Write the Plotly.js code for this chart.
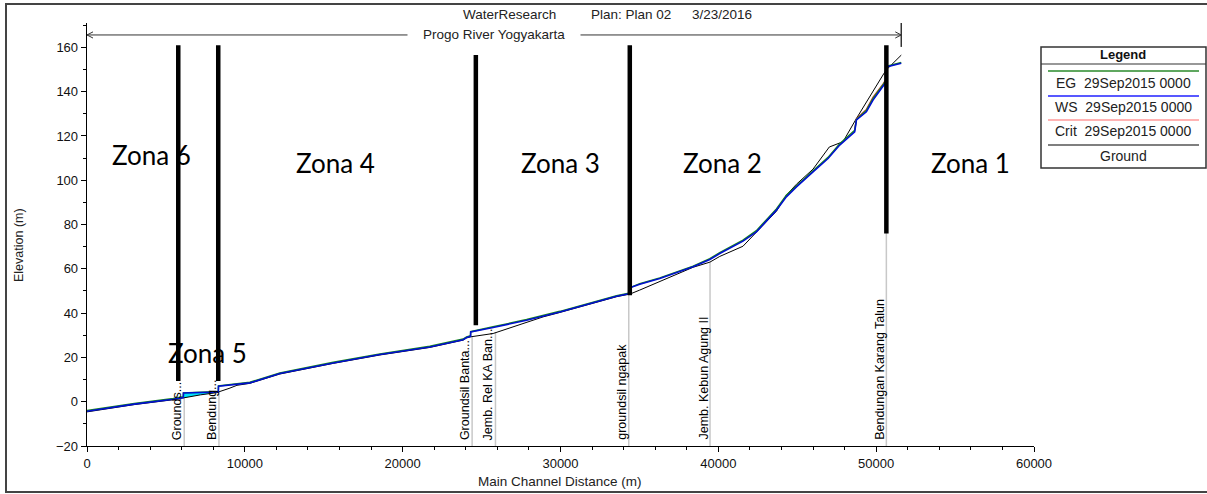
<!DOCTYPE html>
<html><head><meta charset="utf-8">
<script src="https://cdn.plot.ly/plotly-3.0.1.min.js"></script>
<style>html,body{margin:0;padding:0;background:#fff}#chart{width:1207px;height:494px}</style>
</head><body><div id="chart"></div>
<script>
// ---- data ----
const wsX = [0,3000,5466,6100,6110,7200,8320,8330,9000,9500,
  10320,12220,15600,18560,21720,23830,24050,24300,24310,25730,
  27850,29960,32060,33550,34390,34400,35020,36290,38400,39460,
  40090,41560,42410,43680,44310,44950,46000,46950,47690,48640,
  48750,49380,49800,50430,50640,50650,51590];
const wsY = [-4.3,-1.1,1.1,1.9,3.9,4.1,4.4,7.0,7.4,7.8,
  8.5,12.7,17.5,21.3,24.7,28.0,29.0,29.5,31.5,33.5,
  36.8,40.5,44.6,47.6,48.8,51.4,53.0,55.6,60.9,64.2,
  66.9,72.5,76.7,86.5,92.5,97.0,103.8,109.8,115.9,121.9,
  127.2,130.9,136.2,142.2,144.5,151.2,152.8];
const egY = [-4.0,-0.8,1.4,2.2,4.0,4.2,4.6,7.1,7.6,8.0,
  8.8,13.0,17.8,21.6,25.0,28.3,29.3,29.8,31.6,33.8,
  37.1,40.8,44.9,47.9,49.1,51.5,53.3,55.9,61.2,64.6,
  67.3,73.0,77.2,87.0,93.2,97.5,104.3,110.3,116.5,122.6,
  127.5,131.6,137.0,143.0,145.3,151.4,153.2];
const groundX = [0,3000,5466,6100,6110,7200,8320,8330,9000,9500,
  10320,12220,15600,18560,21720,23830,24050,24300,24310,25730,
  27850,28900,29960,32060,33550,34390,34400,35020,36290,38400,
  39460,40090,41560,42410,43680,44310,44950,46000,47030,47900,
  48750,50430,50640,51590];
const groundY = [-4.6,-1.3,0.9,1.7,1.8,3.1,4.2,4.4,6.0,7.4,
  8.3,12.5,17.3,21.1,24.5,27.8,28.8,29.3,29.3,30.8,
  35.6,38.3,40.3,44.4,47.4,48.6,48.6,50.4,54.4,60.7,
  63.0,65.6,70.2,76.5,86.0,93.3,98.2,105.0,115.0,117.4,
  127.9,147.5,149.8,156.5];
const critX = [48640,48750,49380,49800,50430,50640];
const critY = [122.6,127.8,132.0,137.5,143.4,145.8];

const seriesNames = ["EG  29Sep2015 0000","WS  29Sep2015 0000","Crit  29Sep2015 0000","Ground"];

const structNames = ["Grounds...","Bendung...","Groundsil Banta...","Jemb. Rel KA Ban...","groundsil ngapak","Jemb. Kebun Agung II","Bendungan Karang Talun"];
const structX = [6160,8360,24400,25880,34325,39474,50646];
const structTop = [1.9,4.4,29.3,31.5,48.6,63.3,150];

const zoneX = [5782,8315,24636,34390,50646];
const zoneTop = [161,161,156.5,161,161];
const zoneBottom = [9.4,9.4,34.5,48.1,76];

const zoneNames = ["Zona 6","Zona 5","Zona 4","Zona 3","Zona 2","Zona 1"];
const zoneLabelX = [4086,7663,15770,30020,40280,55980];
const zoneLabelY = [111.3,21.9,107.7,107.7,107.7,107.7];

const waterFrom = 6100, waterTo = 8330;
const reachName = "Progo River Yogyakarta";
const reachEnd = 51590, reachY = 165.6;
const headerParts = ["WaterResearch","Plan: Plan 02","3/23/2016"];

// ---- layout helpers ----
const W=1207,H=494,L=87,R=173,T=23,B=48;
const PW=W-L-R, PH=H-T-B;
const px = v => (v-L)/PW;
const py = v => (H-B-v)/PH;
const FONT = "Liberation Sans, Arial, sans-serif";

// water fill polygon (between WS and ground)
const fx=[], fy=[];
wsX.forEach((x,i)=>{ if(x>=waterFrom && x<=waterTo){fx.push(x); fy.push(wsY[i]);} });
for(let i=groundX.length-1;i>=0;i--){ const x=groundX[i]; if(x>=waterFrom && x<=waterTo){fx.push(x); fy.push(groundY[i]);} }

const traces = [
  {x:fx,y:fy,type:'scatter',mode:'lines',fill:'toself',fillcolor:'rgb(0,225,250)',line:{width:0},hoverinfo:'skip',showlegend:false},
  {x:groundX,y:groundY,type:'scatter',mode:'lines',name:seriesNames[3],line:{color:'#000',width:1}},
  {x:critX,y:critY,type:'scatter',mode:'lines',name:seriesNames[2],line:{color:'#e04040',width:1.3}},
  {x:wsX,y:egY,type:'scatter',mode:'lines',name:seriesNames[0],line:{color:'#1a8a1a',width:1.5}},
  {x:wsX,y:wsY,type:'scatter',mode:'lines',name:seriesNames[1],line:{color:'#0010d0',width:1.6}}
];

const shapes = [];
const annotations = [];
// outer frame
shapes.push({type:'rect',xref:'paper',yref:'paper',x0:px(6),x1:px(1220),y0:py(4),y1:py(492),line:{color:'#444',width:2}});
// structure guide lines
structX.forEach((x,i)=>{
  shapes.push({type:'line',xref:'x',yref:'y',x0:x,x1:x,y0:-20,y1:structTop[i],line:{color:'#c8c8c8',width:1.5},layer:'below'});
  annotations.push({x:x,y:-20,xref:'x',yref:'y',text:structNames[i],showarrow:false,textangle:-90,
    xanchor:'center',yanchor:'bottom',xshift:-7,yshift:4,font:{family:FONT,size:12.5,color:'#000'}});
});
// zone lines
zoneX.forEach((x,i)=>{
  shapes.push({type:'line',xref:'x',yref:'y',x0:x,x1:x,y0:zoneBottom[i],y1:zoneTop[i],line:{color:'#000',width:4.5}});
});
// reach arrow
shapes.push({type:'line',xref:'x',yref:'y',x0:0,x1:reachEnd,y0:reachY,y1:reachY,line:{color:'#333',width:1}});
shapes.push({type:'path',xref:'x',yref:'y',path:`M ${380},${reachY+1.4} L 0,${reachY} L ${380},${reachY-1.4}`,line:{color:'#333',width:1}});
shapes.push({type:'path',xref:'x',yref:'y',path:`M ${reachEnd-380},${reachY+1.4} L ${reachEnd},${reachY} L ${reachEnd-380},${reachY-1.4}`,line:{color:'#333',width:1}});
shapes.push({type:'line',xref:'x',yref:'y',x0:reachEnd,x1:reachEnd,y0:160.2,y1:171,line:{color:'#333',width:1.5}});
annotations.push({x:(0+reachEnd)/2,y:reachY,xref:'x',yref:'y',text:'&nbsp;&nbsp;&nbsp;&nbsp;'+reachName+'&nbsp;&nbsp;&nbsp;&nbsp;',showarrow:false,
  bgcolor:'#fff',borderpad:0,font:{family:FONT,size:13.5,color:'#222'},xanchor:'center',yanchor:'middle'});
// header
const headerPx=[461,589,690];
headerParts.forEach((t,i)=>annotations.push({x:px(headerPx[i]),y:py(15),xref:'paper',yref:'paper',text:t,showarrow:false,
  xanchor:'left',yanchor:'middle',font:{family:FONT,size:13.5,color:'#222'}}));
// zone labels
zoneNames.forEach((t,i)=>annotations.push({x:zoneLabelX[i],y:zoneLabelY[i],xref:'x',yref:'y',text:t,showarrow:false,
  xanchor:'center',yanchor:'middle',font:{family:'Lato, Open Sans, sans-serif',size:26,color:'#000'}}));
// axis titles
annotations.push({x:px(560),y:py(482),xref:'paper',yref:'paper',text:'Main Channel Distance (m)',showarrow:false,
  xanchor:'center',yanchor:'middle',font:{family:FONT,size:13.5,color:'#222'}});
annotations.push({x:px(19),y:py(245),xref:'paper',yref:'paper',text:'Elevation (m)',showarrow:false,textangle:-90,
  xanchor:'center',yanchor:'middle',font:{family:FONT,size:12.5,color:'#222'}});
// legend box
const lgL=1041,lgR=1206,lgT=47,lgB=168;
shapes.push({type:'rect',xref:'paper',yref:'paper',x0:px(lgL),x1:px(lgR),y0:py(lgT),y1:py(lgB),line:{color:'#333',width:1.5},fillcolor:'rgba(255,255,255,0)'});
shapes.push({type:'line',xref:'paper',yref:'paper',x0:px(lgL),x1:px(lgR),y0:py(64),y1:py(64),line:{color:'#333',width:1.2}});
annotations.push({x:px(1123),y:py(54),xref:'paper',yref:'paper',text:'<b>Legend</b>',showarrow:false,
  xanchor:'center',yanchor:'middle',font:{family:FONT,size:13,color:'#111'}});
const lgColors=['#2a8a2a','#2020ff','#ff9a9a','#555'];
const lgLineY=[71,96,120,145], lgTextY=[82.7,106.7,130.7,155.7];
seriesNames.forEach((t,i)=>{
  shapes.push({type:'line',xref:'paper',yref:'paper',x0:px(1048),x1:px(1199),y0:py(lgLineY[i]),y1:py(lgLineY[i]),line:{color:lgColors[i],width:1.5}});
  annotations.push({x:px(1123),y:py(lgTextY[i]),xref:'paper',yref:'paper',text:t.replace(/  /g,'&nbsp; '),showarrow:false,
    xanchor:'center',yanchor:'middle',font:{family:FONT,size:14,color:'#222'}});
});

const layout = {
  width:W,height:H,margin:{l:L,r:R,t:T,b:B,pad:0},
  paper_bgcolor:'#fff',plot_bgcolor:'#fff',showlegend:false,
  font:{family:FONT,color:'#111'},
  xaxis:{range:[0,60000],tickmode:'linear',tick0:0,dtick:10000,tickformat:'d',showgrid:false,zeroline:false,
    showline:true,linecolor:'#000',linewidth:1.3,ticks:'outside',ticklen:5,tickcolor:'#000',tickwidth:1,
    tickfont:{family:FONT,size:13,color:'#111'},
    minor:{dtick:2000,ticks:'outside',ticklen:3,tickcolor:'#000',showgrid:false}},
  yaxis:{range:[-20,171],tickmode:'linear',tick0:-20,dtick:20,tickformat:'d',showgrid:false,zeroline:false,
    showline:true,linecolor:'#000',linewidth:1.3,ticks:'outside',ticklen:5,tickcolor:'#000',tickwidth:1,
    tickfont:{family:FONT,size:13,color:'#111'},
    minor:{dtick:10,ticks:'outside',ticklen:3,tickcolor:'#000',showgrid:false}},
  shapes:shapes,annotations:annotations
};
Plotly.newPlot('chart',traces,layout,{displayModeBar:false,staticPlot:true});
</script>
</body></html>
